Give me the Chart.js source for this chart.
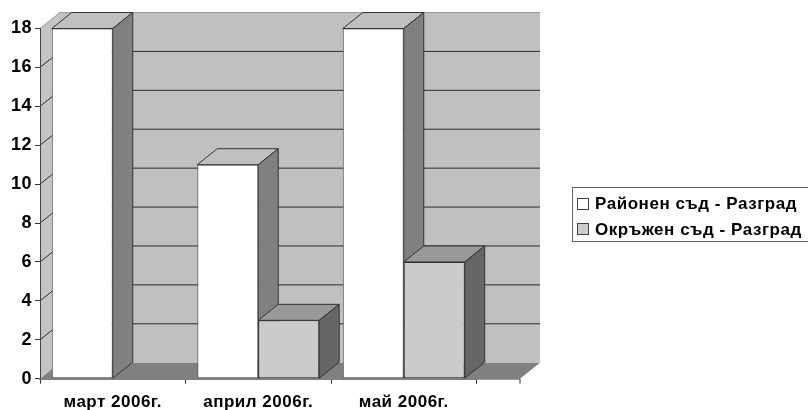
<!DOCTYPE html>
<html>
<head>
<meta charset="utf-8">
<script src="https://cdn.jsdelivr.net/npm/chart.js@4"></script>
<style>
  html, body { margin: 0; padding: 0; background: #fff; }
  canvas { display: block; }
</style>
</head>
<body>
<canvas id="courtChart" width="808" height="410"></canvas>
<script>
const categories = ["март 2006г.", "април 2006г.", "май 2006г."];
const seriesNames = ["Районен съд - Разград", "Окръжен съд - Разград"];
const regionalValues = [18, 11, 18];
const districtValues = [0, 3, 6];
const yTickStep = 2;
const yMax = 18;

const DEPTH_X = 20;
const DEPTH_Y = 16;
const FLOOR_EXTRA = 43.5; // axis runs on past the last category
const FAMILY = '"Liberation Sans", Arial, sans-serif';

function poly(ctx, pts, fill, stroke) {
  ctx.beginPath();
  pts.forEach((p, i) => (i ? ctx.lineTo(p[0], p[1]) : ctx.moveTo(p[0], p[1])));
  ctx.closePath();
  ctx.fillStyle = fill;
  ctx.fill();
  if (stroke) {
    ctx.strokeStyle = stroke;
    ctx.lineWidth = 1;
    ctx.stroke();
  }
}

// walls, floor and the lines on them
const wallsPlugin = {
  id: "walls",
  beforeDraw(chart) {
    const { ctx, chartArea: a, scales } = chart;
    const right = a.right + FLOOR_EXTRA;
    const y = scales.y;
    ctx.letterSpacing = "0.5px"; // reference text is set wide
    ctx.save();
    poly(ctx, [[a.left + DEPTH_X, a.top - DEPTH_Y], [right + DEPTH_X, a.top - DEPTH_Y],
      [right + DEPTH_X, a.bottom - DEPTH_Y], [a.left + DEPTH_X, a.bottom - DEPTH_Y]], "#c0c0c0");
    poly(ctx, [[a.left, a.top], [a.left + DEPTH_X, a.top - DEPTH_Y],
      [a.left + DEPTH_X, a.bottom - DEPTH_Y], [a.left, a.bottom]], "#c4c4c4");
    poly(ctx, [[a.left, a.bottom], [right, a.bottom],
      [right + DEPTH_X, a.bottom - DEPTH_Y], [a.left + DEPTH_X, a.bottom - DEPTH_Y]], "#808080");

    ctx.strokeStyle = "#2a2a2a";
    ctx.lineWidth = 1;
    y.ticks.forEach((t) => {
      const py = y.getPixelForValue(t.value);
      if (t.value === 0 || t.value === yMax) return;
      ctx.beginPath();
      ctx.moveTo(a.left, py);
      ctx.lineTo(a.left + DEPTH_X, py - DEPTH_Y);
      ctx.lineTo(right + DEPTH_X, py - DEPTH_Y);
      ctx.stroke();
    });
    ctx.strokeStyle = "#9a9a9a";
    ctx.beginPath();
    ctx.moveTo(a.left, a.top);
    ctx.lineTo(a.left + DEPTH_X, a.top - DEPTH_Y);
    ctx.lineTo(right + DEPTH_X, a.top - DEPTH_Y);
    ctx.stroke();

    // axis extension with closing tick
    ctx.strokeStyle = "#808080";
    ctx.lineWidth = 2;
    ctx.beginPath();
    ctx.moveTo(a.right, a.bottom);
    ctx.lineTo(right, a.bottom);
    ctx.stroke();
    ctx.strokeStyle = "#333";
    ctx.lineWidth = 1;
    ctx.beginPath();
    ctx.moveTo(right, a.bottom);
    ctx.lineTo(right, a.bottom + 5);
    ctx.stroke();
    ctx.restore();
  },
  // side and top faces, taken from the bar elements
  beforeDatasetsDraw(chart) {
    const { ctx, data } = chart;
    ctx.save();
    data.datasets.forEach((ds, di) => {
      chart.getDatasetMeta(di).data.forEach((bar, i) => {
        if (!ds.data[i]) return;
        const half = bar.width / 2;
        const l = bar.x - half, r = bar.x + half, t = bar.y, b = bar.base;
        poly(ctx, [[l, t], [r, t], [r + DEPTH_X, t - DEPTH_Y], [l + DEPTH_X, t - DEPTH_Y]], ds.topColor, "#333");
        poly(ctx, [[r, t], [r + DEPTH_X, t - DEPTH_Y], [r + DEPTH_X, b - DEPTH_Y], [r, b]], ds.sideColor, "#333");
      });
    });
    ctx.restore();
  },
  afterDraw(chart) {
    const { ctx, data } = chart;
    ctx.save();
    ctx.fillStyle = "#fff";
    ctx.fillRect(572, 187, 236, 55);
    ctx.strokeStyle = "#666";
    ctx.lineWidth = 1;
    ctx.strokeRect(572.5, 187.5, 240, 54);
    ctx.font = "bold 17px " + FAMILY;
    ctx.letterSpacing = "0.55px";
    ctx.textBaseline = "alphabetic";
    ctx.textAlign = "left";
    data.datasets.forEach((ds, i) => {
      const top = 198.5 + i * 25;
      ctx.fillStyle = ds.backgroundColor;
      ctx.fillRect(577.5, top, 11, 11);
      ctx.strokeStyle = "#444";
      ctx.strokeRect(577.5, top, 11, 11);
      ctx.fillStyle = "#000";
      ctx.fillText(ds.label, 595, 209 + i * 26);
    });
    ctx.restore();
  }
};

new Chart(document.getElementById("courtChart"), {
  type: "bar",
  data: {
    labels: categories,
    datasets: [
      { label: seriesNames[0], data: regionalValues, backgroundColor: "#ffffff", topColor: "#c0c0c0", sideColor: "#808080",
        borderColor: "#555", borderWidth: 1, borderSkipped: false },
      { label: seriesNames[1], data: districtValues, backgroundColor: "#cbcbcb", topColor: "#999999", sideColor: "#666666",
        borderColor: "#333", borderWidth: 1, borderSkipped: false }
    ]
  },
  options: {
    responsive: false,
    animation: false,
    devicePixelRatio: 1,
    layout: { padding: { top: 28.5, right: 331.5, bottom: 0, left: 0 } },
    datasets: { bar: { barPercentage: 1, categoryPercentage: 0.838 } },
    plugins: { legend: { display: false }, tooltip: { enabled: false } },
    scales: {
      x: {
        afterFit: (s) => { s.height = 31.3; },
        grid: { drawOnChartArea: false, offset: true, tickLength: 5, color: "#333" },
        border: { color: "#808080", width: 2 },
        ticks: { color: "#000", padding: 8, maxRotation: 0, font: { family: FAMILY, size: 17, weight: "bold" } }
      },
      y: {
        min: 0,
        max: yMax,
        afterFit: (s) => { s.width = 40; },
        grid: { drawOnChartArea: false, tickLength: 5, color: "#333" },
        border: { color: "#444", width: 1 },
        ticks: { stepSize: yTickStep, color: "#000", padding: 3, font: { family: FAMILY, size: 18, weight: "bold" } }
      }
    }
  },
  plugins: [wallsPlugin]
});
</script>
</body>
</html>
